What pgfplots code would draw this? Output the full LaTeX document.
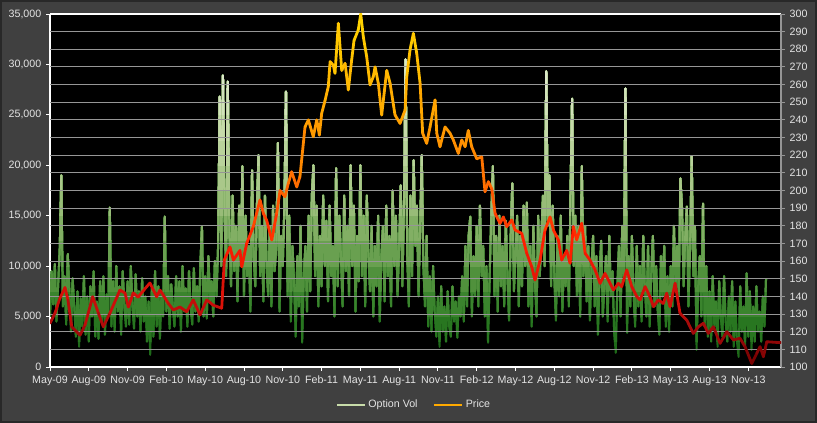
\documentclass[border=0pt]{standalone}
\usepackage{pgfplots}
\pgfplotsset{compat=1.18}
\usepackage{pgfplotstable}
\usepackage{fontspec}
\setmainfont{Liberation Sans}
\definecolor{bggray}{RGB}{64,64,64}
\definecolor{bord}{RGB}{40,40,40}
\definecolor{gridgray}{RGB}{150,150,150}
\definecolor{lbl}{RGB}{228,228,228}
\definecolor{volleg}{RGB}{200,220,170}
\definecolor{priceleg}{RGB}{255,170,0}
\pgfplotstableread[row sep=\\]{
x y\\
0 5\\ .125 9.5\\ .25 6.2\\ .375 10.2\\ .5 4.5\\ .625 8\\ .75 11.5\\ .875 19\\
1 6\\ 1.125 9\\ 1.25 4.2\\ 1.375 11.2\\ 1.5 7.5\\ 1.625 3.5\\ 1.75 8.8\\ 1.875 6\\
2 3\\ 2.125 7.5\\ 2.25 2\\ 2.375 6.8\\ 2.5 4\\ 2.625 9\\ 2.75 3.2\\ 2.875 7\\
3 2.5\\ 3.125 8\\ 3.25 5\\ 3.375 9.5\\ 3.5 3\\ 3.625 6.5\\ 3.75 2.8\\ 3.875 8.5\\
4 4.5\\ 4.125 9\\ 4.25 3.2\\ 4.375 7.2\\ 4.5 5\\ 4.625 15.8\\ 4.75 4\\ 4.875 8.5\\
5 3.5\\ 5.125 10\\ 5.25 5.5\\ 5.375 8\\ 5.5 3.2\\ 5.625 9.5\\ 5.75 6\\ 5.875 4\\
6 8.5\\ 6.125 4.2\\ 6.25 10\\ 6.375 6\\ 6.5 3.8\\ 6.625 9.2\\ 6.75 5\\ 6.875 7.5\\
7 3.5\\ 7.125 8.8\\ 7.25 4.5\\ 7.375 7\\ 7.5 2.5\\ 7.625 6.5\\ 7.75 1.2\\ 7.875 7.8\\
8 3\\ 8.125 9.5\\ 8.25 4\\ 8.375 8\\ 8.5 2.8\\ 8.625 7.5\\ 8.75 5\\ 8.875 14.9\\
9 5.5\\ 9.125 9\\ 9.25 3.8\\ 9.375 8.2\\ 9.5 6\\ 9.625 4\\ 9.75 9\\ 9.875 5\\
10 8.5\\ 10.125 3.5\\ 10.25 10\\ 10.375 5.5\\ 10.5 7.8\\ 10.625 4\\ 10.75 9.5\\ 10.875 6\\
11 4.2\\ 11.125 9.8\\ 11.25 5.5\\ 11.375 8\\ 11.5 4.5\\ 11.625 10\\ 11.75 13.9\\ 11.875 5\\
12 9\\ 12.125 4.8\\ 12.25 11\\ 12.375 6.5\\ 12.5 8.5\\ 12.625 5\\ 12.75 10.5\\ 12.875 7\\
13 12\\ 13.125 26.8\\ 13.25 10\\ 13.375 28.9\\ 13.5 15\\ 13.625 9\\ 13.75 28.3\\ 13.875 13\\
14 8\\ 14.125 17\\ 14.25 9.5\\ 14.375 14\\ 14.5 6.5\\ 14.625 16\\ 14.75 10\\ 14.875 19.9\\
15 7\\ 15.125 15\\ 15.25 9\\ 15.375 12\\ 15.5 5.5\\ 15.625 19.5\\ 15.75 11\\ 15.875 8\\
16 16\\ 16.125 21\\ 16.25 9\\ 16.375 14\\ 16.5 6.5\\ 16.625 17\\ 16.75 10\\ 16.875 7\\
17 14\\ 17.125 6\\ 17.25 16\\ 17.375 9.5\\ 17.5 12\\ 17.625 22.2\\ 17.75 5.5\\ 17.875 13\\
18 10\\ 18.125 16\\ 18.25 27.3\\ 18.375 7\\ 18.5 15\\ 18.625 4.5\\ 18.75 12\\ 18.875 8.5\\
19 3\\ 19.125 11\\ 19.25 6\\ 19.375 14\\ 19.5 2.4\\ 19.625 9\\ 19.75 12\\ 19.875 5.5\\
20 15\\ 20.125 7.5\\ 20.25 17\\ 20.375 20\\ 20.5 9\\ 20.625 16\\ 20.75 6\\ 20.875 13\\
21 8\\ 21.125 17\\ 21.25 10\\ 21.375 14.5\\ 21.5 6.5\\ 21.625 16\\ 21.75 9\\ 21.875 12\\
22 5\\ 22.125 19.7\\ 22.25 8\\ 22.375 15\\ 22.5 11\\ 22.625 6\\ 22.75 17\\ 22.875 9.5\\
23 14\\ 23.125 7\\ 23.25 20\\ 23.375 10\\ 23.5 16\\ 23.625 5.5\\ 23.75 13\\ 23.875 8.5\\
24 20\\ 24.125 9\\ 24.25 15\\ 24.375 6\\ 24.5 17\\ 24.625 11\\ 24.75 7.5\\ 24.875 14\\
25 5\\ 25.125 12\\ 25.25 8\\ 25.375 15\\ 25.5 4.5\\ 25.625 11\\ 25.75 14\\ 25.875 6.5\\
26 16\\ 26.125 9\\ 26.25 13\\ 26.375 6\\ 26.5 17.5\\ 26.625 10\\ 26.75 15\\ 26.875 7\\
27 12\\ 27.125 18\\ 27.25 8\\ 27.375 16\\ 27.5 30.5\\ 27.625 11\\ 27.75 6\\ 27.875 17\\
28 9\\ 28.125 20.5\\ 28.25 12\\ 28.375 16\\ 28.5 7\\ 28.625 14\\ 28.75 21\\ 28.875 10\\
29 6\\ 29.125 13\\ 29.25 4\\ 29.375 9\\ 29.5 3.5\\ 29.625 10\\ 29.75 5.5\\ 29.875 3\\
30 7\\ 30.125 2\\ 30.25 8\\ 30.375 3.5\\ 30.5 6\\ 30.625 2.5\\ 30.75 7.5\\ 30.875 4\\
31 3\\ 31.125 8\\ 31.25 4.5\\ 31.375 6.5\\ 31.5 2.9\\ 31.625 7\\ 31.75 5\\ 31.875 9\\
32 4.5\\ 32.125 12\\ 32.25 6\\ 32.375 13\\ 32.5 14.9\\ 32.625 5\\ 32.75 11\\ 32.875 7\\
33 14\\ 33.125 6\\ 33.25 16\\ 33.375 9\\ 33.5 12\\ 33.625 5\\ 33.75 10\\ 33.875 2.4\\
34 9\\ 34.125 15\\ 34.25 19.9\\ 34.375 7\\ 34.5 13\\ 34.625 5.5\\ 34.75 15\\ 34.875 8\\
35 12\\ 35.125 6\\ 35.25 14.5\\ 35.375 9\\ 35.5 4.6\\ 35.625 13\\ 35.75 18.2\\ 35.875 7.5\\
36 11\\ 36.125 15\\ 36.25 6\\ 36.375 13\\ 36.5 8\\ 36.625 16\\ 36.75 10\\ 36.875 16.3\\
37 6\\ 37.125 12\\ 37.25 4\\ 37.375 14\\ 37.5 8.5\\ 37.625 5\\ 37.75 15\\ 37.875 9\\
38 13\\ 38.125 17\\ 38.25 10\\ 38.375 29.3\\ 38.5 14\\ 38.625 19\\ 38.75 8\\ 38.875 16\\
39 9\\ 39.125 4.6\\ 39.25 13\\ 39.375 7\\ 39.5 15\\ 39.625 5.5\\ 39.75 11\\ 39.875 8\\
40 13\\ 40.125 6\\ 40.25 17\\ 40.375 26.6\\ 40.5 10\\ 40.625 15\\ 40.75 7\\ 40.875 14\\
41 5\\ 41.125 19.9\\ 41.25 9\\ 41.375 14\\ 41.5 6.5\\ 41.625 12\\ 41.75 4.6\\ 41.875 10\\
42 13\\ 42.125 6\\ 42.25 11\\ 42.375 3.2\\ 42.5 9\\ 42.625 12.5\\ 42.75 5\\ 42.875 8\\
43 11\\ 43.125 4.5\\ 43.25 13\\ 43.375 7\\ 43.5 9.5\\ 43.625 3.5\\ 43.75 1.4\\ 43.875 8\\
44 12\\ 44.125 5\\ 44.25 14\\ 44.375 9\\ 44.5 27.6\\ 44.625 3.4\\ 44.75 11\\ 44.875 6\\
45 13\\ 45.125 7.5\\ 45.25 4\\ 45.375 12\\ 45.5 6\\ 45.625 10\\ 45.75 4.5\\ 45.875 13\\
46 8\\ 46.125 5\\ 46.25 12\\ 46.375 4\\ 46.5 9.5\\ 46.625 13\\ 46.75 6\\ 46.875 10\\
47 5.5\\ 47.125 3.2\\ 47.25 11\\ 47.375 7\\ 47.5 12\\ 47.625 4\\ 47.75 9\\ 47.875 3.5\\
48 10\\ 48.125 6\\ 48.25 14\\ 48.375 8\\ 48.5 12\\ 48.625 7\\ 48.75 18.7\\ 48.875 15.8\\
49 8\\ 49.125 13\\ 49.25 15.9\\ 49.375 6\\ 49.5 12\\ 49.625 20.9\\ 49.75 9\\ 49.875 14\\
50 1.7\\ 50.125 8\\ 50.25 11\\ 50.375 5\\ 50.5 16.2\\ 50.625 4\\ 50.75 10\\ 50.875 3\\
51 7.5\\ 51.125 2.5\\ 51.25 9\\ 51.375 4\\ 51.5 6.5\\ 51.625 2\\ 51.75 8.5\\ 51.875 5\\
52 3\\ 52.125 9\\ 52.25 4.5\\ 52.375 2.5\\ 52.5 7\\ 52.625 3.5\\ 52.75 8.5\\ 52.875 2\\
53 6.5\\ 53.125 2.5\\ 53.25 1\\ 53.375 8\\ 53.5 3.5\\ 53.625 6\\ 53.75 2\\ 53.875 9.3\\
54 3\\ 54.125 7.5\\ 54.25 1.7\\ 54.375 6\\ 54.5 2.5\\ 54.625 8\\ 54.75 3.5\\ 54.875 5.5\\
55 2.5\\ 55.125 7\\ 55.25 4\\ 55.375 8.8\\
}\voltable
\begin{document}
\begin{tikzpicture}
\useasboundingbox (-37.5pt,-42pt) rectangle (575.25pt,275.25pt);
\fill[bggray] (-37.5pt,-42pt) rectangle (575.25pt,275.25pt);
\draw[bord,line width=1.2pt] (-36.9pt,-41.4pt) rectangle (574.65pt,274.65pt);
% background, left axis, x axis
\begin{axis}[
  at={(0,0)}, anchor=south west,
  scale only axis, width=548.25pt, height=264.75pt,
  xmin=0, xmax=56.53, ymin=0, ymax=35,
  axis background/.style={fill=black},
  axis x line*=bottom, axis y line*=left,
  x axis line style={white, line width=0.9pt},
  y axis line style={white, line width=0.9pt},
  xtick={0,3,...,54},
  xticklabels={May-09,Aug-09,Nov-09,Feb-10,May-10,Aug-10,Nov-10,Feb-11,May-11,Aug-11,Nov-11,Feb-12,May-12,Aug-12,Nov-12,Feb-13,May-13,Aug-13,Nov-13},
  ytick={0,5,...,35},
  yticklabels={0,{5,000},{10,000},{15,000},{20,000},{25,000},{30,000},{35,000}},
  tick align=outside, major tick length=3pt,
  tick style={white, line width=0.7pt},
  ticklabel style={font=\fontsize{8}{9}\selectfont, text=lbl},
]
\end{axis}
% Option Vol: the same series drawn in bands, coloured by height
\foreach \p/\a/\c in {0/0/{30,105,25}, 18.911/2.5/{40,118,32}, 37.821/5/{58,132,45}, 56.732/7.5/{80,145,60}, 75.643/10/{105,160,80}, 94.554/12.5/{130,175,100}, 113.464/15/{152,188,120}, 132.375/17.5/{170,200,138}, 151.286/20/{185,210,155}, 170.196/22.5/{198,218,170}, 189.107/25/{210,226,186}, 208.018/27.5/{220,232,200}}{
  \definecolor{bandc}{RGB}{\c}
  \pgfmathsetmacro{\h}{264.75-\p}
  \begin{axis}[
    at={(0,\p pt)}, anchor=south west,
    scale only axis, width=548.25pt, height=\h pt,
    xmin=0, xmax=56.53, ymin=\a, ymax=35, hide axis,
  ]
  \addplot[bandc, line width=1.5pt, line join=round] table {\voltable};
  \end{axis}
}
% Price axis
\begin{axis}[
  at={(0,0)}, anchor=south west,
  scale only axis, width=548.25pt, height=264.75pt,
  xmin=0, xmax=56.53, ymin=100, ymax=300,
  axis x line*=top, axis y line*=right,
  xtick=\empty,
  x axis line style={white, line width=1pt},
  y axis line style={gridgray, line width=0.9pt},
  ytick={110,120,...,300},
  yticklabels={110,120,130,140,150,160,170,180,190,200,210,220,230,240,250,260,270,280,290,300},
  extra y ticks={100}, extra y tick labels={100},
  extra y tick style={grid=none},
  ymajorgrids, grid style={gridgray, line width=0.7pt},
  tick align=outside, major tick length=3pt,
  tick style={gridgray, line width=0.7pt},
  ticklabel style={font=\fontsize{8}{9}\selectfont, text=lbl},
  point meta min=100, point meta max=300,
  colormap={price}{rgb255(0cm)=(110,0,0) rgb255(2cm)=(160,10,10) rgb255(4cm)=(210,15,10) rgb255(7cm)=(255,30,0) rgb255(10cm)=(255,100,0) rgb255(13cm)=(255,150,0) rgb255(16cm)=(255,180,0) rgb255(20cm)=(255,215,0)},
  legend style={at={(0.4986,-0.108)}, anchor=center, draw=none, fill=none, text=lbl, font=\fontsize{8}{9}\selectfont, legend columns=2, /tikz/every even column/.append style={column sep=10pt}},
  legend image code/.code={\draw[#1] (0pt,0pt) -- (21pt,0pt);},
]
\addlegendimage{color=volleg, line width=1.2pt}
\addlegendentry{Option Vol}
\addlegendimage{color=priceleg, line width=1.2pt}
\addlegendentry{Price}
\addplot[mesh, point meta=y, line width=2.1pt, line cap=round, line join=round, forget plot] coordinates {
(0,124.8)(0.39,130.6)(0.77,139)(1.16,145)(1.39,138)(1.68,122.8)(2.32,118)(2.71,123.8)
(3.30,139.8)(3.74,130.6)(4.12,122.8)(4.64,130.6)(5.41,143.6)(5.80,141.9)(6.06,134)(6.44,142)
(6.81,139.6)(7.48,145.5)(7.73,147.6)(8.25,139.8)(8.51,143.6)(9.15,136)(9.54,132.3)(10.05,134)
(10.57,131.3)(11.08,138)(11.60,129.5)(12.12,138)(12.63,135)(13.28,133.3)(13.48,160.6)(13.92,168)
(14.18,160.6)(14.69,166)(14.83,156.8)(15.21,170)(15.72,179.5)(16.24,194.6)(16.50,187)(16.76,183)
(17.15,172)(17.53,187)(17.79,200)(18.17,196.5)(18.43,204)(18.69,210.6)(19.08,202)(19.33,207.8)
(19.72,236)(19.98,240)(20.36,230.5)(20.63,240)(20.83,231.4)(21.01,243.7)(21.27,251)(21.52,258.8)
(21.66,273)(21.91,271)(22.04,266.4)(22.30,294.7)(22.56,268)(22.82,272)(23.07,257)(23.33,274)
(23.51,285)(23.84,291)(24.03,300)(24.23,287)(24.49,275.8)(24.75,259.8)(25.00,264.5)(25.14,270)
(25.39,260.7)(25.65,242.8)(26.04,268)(26.30,260.7)(26.68,242.8)(27.07,238)(27.46,245.6)(27.59,264.5)
(27.84,279.6)(28.10,289)(28.36,277.7)(28.62,260.7)(28.82,232.4)(29.13,226.7)(29.39,236)(29.78,251.3)
(29.91,232.4)(30.16,224.8)(30.55,236)(30.94,232.4)(31.19,228.6)(31.58,221)(31.84,228.6)(32.10,224.8)
(32.35,234)(32.61,224.8)(33.00,218)(33.39,219)(33.64,199.3)(33.90,205)(34.16,201)(34.42,187)
(34.80,181.4)(35.06,185)(35.32,179.5)(35.71,183.3)(35.96,177.6)(36.48,175.7)(36.87,164.4)(37.25,156.8)
(37.51,149.3)(37.90,160.6)(38.28,177.6)(38.67,185)(38.93,177.6)(39.31,172)(39.57,160.6)(39.96,166)
(40.22,158.8)(40.47,179.5)(40.73,172)(41.12,181.4)(41.38,164.4)(41.76,160.6)(42.15,155)(42.54,147.4)
(42.92,153)(43.18,149.3)(43.57,143.6)(43.95,147.4)(44.21,145.5)(44.60,155)(44.99,145.5)(45.38,139.8)
(45.63,138)(46.02,145.5)(46.40,139.8)(46.66,134.2)(47.05,138)(47.43,136)(47.69,141.8)(47.95,134.2)
(48.34,147.4)(48.72,130.4)(49.24,126.6)(49.75,119)(50.14,122.8)(50.53,124.8)(50.91,119)(51.30,122.8)
(51.82,113.4)(52.34,120)(52.85,115.3)(53.36,116.3)(53.75,111.5)(54.27,102)(54.66,107.8)(54.91,111.5)
(55.17,105.8)(55.43,114.3)(56.46,113.8)(56.53,113.8)
};
\end{axis}
\end{tikzpicture}
\end{document}
